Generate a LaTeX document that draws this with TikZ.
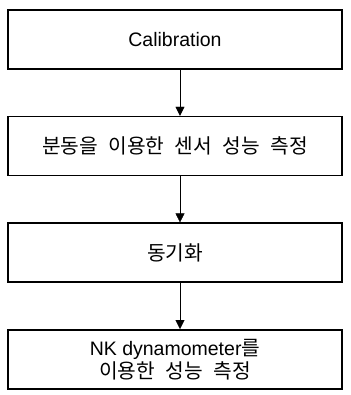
\documentclass[tikz,border=0pt]{standalone}
\usepackage{fontspec}
\setmainfont{Liberation Sans}
\newfontfamily\kr[Scale=1.04,WordSpace=2.3]{Noto Sans CJK KR}
\usetikzlibrary{chains,arrows.meta,positioning}

\begin{document}
\begin{tikzpicture}[step box/.style={rectangle, draw, line width=1.6pt,
            minimum width=334pt, minimum height=59pt, align=center,
            font=\fontsize{19.5pt}{23pt}\selectfont, on chain},
          >={Triangle[length=9pt,width=9pt]}, start chain=going below,
          node distance=46pt]

          \useasboundingbox (0,0) rectangle (350pt,-395pt);
          \node[step box] at (175pt,-39.5pt) (calib) {Calibration};
          \node[step box] (weight) {\kr 분동을 이용한 센서 성능 측정};
          \node[step box] (sync) {\kr 동기화};
          \node[step box] (nk) {NK dynamometer{\kr 를}\\{\kr 이용한 성능 측정}};
          \foreach \a/\b in {calib/weight,weight/sync,sync/nk}
            \draw[->] ([xshift=5pt]\a.south) -- ([xshift=5pt]\b.north);
        \end{tikzpicture}
\end{document}
